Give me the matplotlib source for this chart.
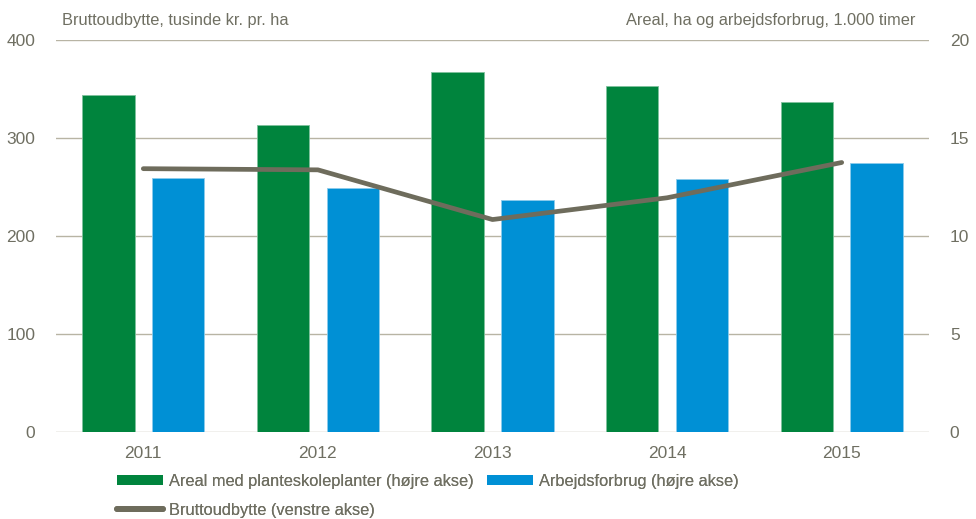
import matplotlib
matplotlib.use("Agg")
import matplotlib.pyplot as plt
from matplotlib.patches import Patch
from matplotlib.lines import Line2D
import numpy as np

years = ["2011", "2012", "2013", "2014", "2015"]
areal = [17.2, 15.65, 18.35, 17.65, 16.85]          # right axis
arbejde = [12.98, 12.47, 11.82, 12.93, 13.7]         # right axis
brutto = [268.7, 267.5, 216.8, 239.0, 275.0]        # left axis

GREEN = "#00843D"
BLUE = "#0090D5"
LINEC = "#6E6C5C"
GRID = "#B8B4A4"
TXT = "#6F6F62"
FS = 11.8

plt.rcParams['font.family'] = ['Liberation Sans Narrow', 'Liberation Sans', 'DejaVu Sans']

fig = plt.figure(figsize=(9.76, 5.19), dpi=100)
ax = fig.add_axes([56/976, 1-432/519, (929-56)/976, (432-40)/519])
ax2 = ax.twinx()
ax.set_zorder(2)
ax.patch.set_visible(False)
ax2.set_zorder(1)

x = np.arange(len(years))
w = 0.30
ax2.bar(x - 0.2, areal, w, color=GREEN, edgecolor="#7fc19d", linewidth=0.6, zorder=2)
ax2.bar(x + 0.2, arbejde, w, color=BLUE, edgecolor="#8ccbec", linewidth=0.6, zorder=2)
ax2.set_ylim(0, 20)
ax2.set_yticks([0, 5, 10, 15, 20])
ax2.yaxis.grid(True, color=GRID, linewidth=1.0, zorder=0)
ax2.set_axisbelow(True)

ax.plot(x, brutto, color=LINEC, linewidth=3.4, solid_capstyle="round", solid_joinstyle="round")
ax.set_ylim(0, 400)
ax.set_yticks([0, 100, 200, 300, 400])
ax.set_xlim(-0.5, 4.5)
ax.set_xticks(x)
ax.set_xticklabels(years)

for a in (ax, ax2):
    for s in a.spines.values():
        s.set_visible(False)
    a.tick_params(length=0, colors=TXT, labelsize=12.5)
ax.tick_params(axis='y', pad=15)
ax2.tick_params(axis='y', pad=15)
ax.tick_params(axis='x', pad=10)

fig.text(62/976, 1-20/519, "Bruttoudbytte, tusinde kr. pr. ha", color=TXT, fontsize=FS,
         ha="left", va="center")
fig.text(915/976, 1-20/519, "Areal, ha og arbejdsforbrug, 1.000 timer", color=TXT, fontsize=FS,
         ha="right", va="center")

fs_px = FS * 100 / 72
hl = 46 / fs_px
items = [
    (Patch(facecolor=GREEN, edgecolor="none"), "Areal med planteskoleplanter (højre akse)", 117, 481.5),
    (Patch(facecolor=BLUE, edgecolor="none"), "Arbejdsforbrug (højre akse)", 487, 481.5),
    (Line2D([0], [0], color=LINEC, linewidth=4.2, solid_capstyle="round"), "Bruttoudbytte (venstre akse)", 117, 510),
]
for h, lab, px, py in items:
    leg = fig.legend([h], [lab], loc="center left", bbox_to_anchor=(px/976, 1-py/519),
                     frameon=False, fontsize=FS, handlelength=hl, handleheight=0.55,
                     handletextpad=6/fs_px, borderaxespad=0, borderpad=0)
    for t in leg.get_texts():
        t.set_color(TXT)
    fig.add_artist(leg)

fig.savefig("out.png", dpi=100)
